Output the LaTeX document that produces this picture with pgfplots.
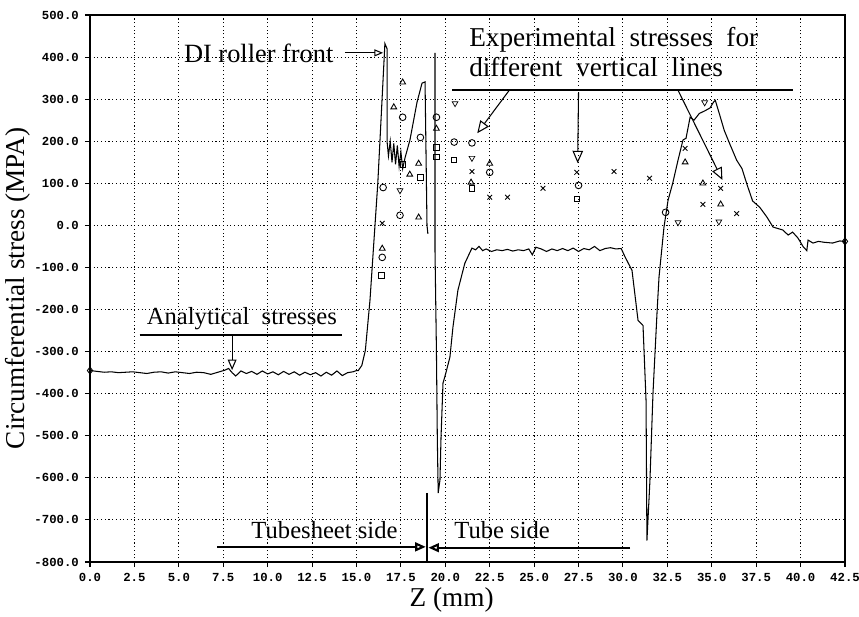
\documentclass[border=0pt]{standalone}
\usepackage{fontspec}
\setmainfont{Liberation Serif}
\setmonofont{Liberation Mono}
\usepackage{pgfplots}
\pgfplotsset{compat=1.18}
\usetikzlibrary{arrows.meta}

\begin{document}
\begin{tikzpicture}
\begin{axis}[
  name=ax,
  scale only axis,
  width=15.1cm, height=10.94cm,
  xmin=0, xmax=42.5, ymin=-800, ymax=500,
  xtick distance=2.5, ytick distance=100,
  tick pos=left, tick align=outside,
  major tick length=0.1cm,
  tick style={black, line width=0.6pt},
  axis line style={line width=0.9pt},
  grid=major,
  grid style={black, line width=0.6pt, dash pattern=on 0.6pt off 1.5pt},
  ticklabel style={font=\fontsize{7}{8}\selectfont\ttfamily\bfseries,
    /pgf/number format/.cd, fixed, fixed zerofill, precision=1, assume math mode=true},
  xlabel={Z (mm)},
  ylabel={Circumferential stress (MPA)},
  label style={font=\fontsize{15.5}{17}\selectfont},
  xlabel style={at={(axis description cs:0.479,-0.07)}, anchor=center},
  ylabel style={at={(axis description cs:-0.095,0.5)}, anchor=center},
  clip=false,
]
% analytical stresses, tubesheet part
\addplot[black, line width=0.6pt] coordinates {
 (0,-345) (0.4,-347) (0.8,-349) (1.2,-348) (1.6,-350) (2.0,-349) (2.4,-348)
 (2.8,-350) (3.2,-352) (3.6,-349) (4.0,-348) (4.4,-351) (4.8,-348) (5.2,-350)
 (5.6,-352) (6.0,-349) (6.4,-350) (6.8,-354) (7.2,-349) (7.6,-344) (7.8,-340)
 (8.0,-350) (8.2,-358) (8.5,-346) (8.8,-352) (9.1,-347) (9.4,-354) (9.7,-346)
 (10.0,-353) (10.3,-348) (10.6,-355) (10.9,-347) (11.2,-354) (11.5,-348)
 (11.8,-356) (12.1,-349) (12.4,-355) (12.7,-350) (13.0,-358) (13.3,-349)
 (13.6,-356) (13.9,-346) (14.2,-357) (14.5,-350) (14.8,-348) (15.0,-345)
 (15.1,-345) (15.3,-333) (15.5,-297) (15.76,-178) (16.2,100) (16.6,432)
 (16.72,420) (16.72,200) (16.8,165) (16.9,200) (17.0,150) (17.1,195)
 (17.2,145) (17.3,190) (17.4,140) (17.5,175) (17.6,135) (17.73,160)
 (18.01,203) (18.41,293) (18.69,338) (18.86,341) (18.97,0) (19.02,-20)
};
% analytical stresses, tube part
\addplot[black, line width=0.6pt] coordinates {
 (19.42,410) (19.42,-59) (19.5,-296) (19.55,-503) (19.6,-636) (19.7,-605)
 (19.76,-503) (19.87,-375) (20.03,-351) (20.26,-313) (20.43,-242) (20.71,-154)
 (21.1,-90) (21.5,-54) (21.7,-58) (21.9,-50) (22.1,-60) (22.3,-56) (22.6,-62)
 (22.9,-58) (23.2,-60) (23.5,-57) (23.8,-61) (24.1,-58) (24.4,-60) (24.7,-56)
 (24.9,-70) (25.1,-52) (25.4,-56) (25.7,-62) (26.0,-56) (26.3,-60) (26.6,-55)
 (26.9,-60) (27.2,-54) (27.5,-62) (27.8,-55) (28.1,-58) (28.4,-50) (28.7,-60)
 (29.0,-55) (29.3,-53) (29.6,-56) (29.9,-55) (30.12,-75) (30.51,-107)
 (30.85,-226) (31.13,-238) (31.3,-416) (31.35,-749) (31.52,-606) (31.69,-400)
 (31.92,-206) (32.03,-123) (32.31,-4) (32.54,60) (32.8,100) (33.1,155)
 (33.38,203) (33.55,207) (33.78,257) (34.0,250) (34.3,266) (34.6,272)
 (34.9,279) (35.1,293) (35.2,297) (35.45,262) (35.7,226) (36.0,195)
 (36.4,155) (36.7,135) (37.0,95) (37.3,58) (37.7,43) (38.1,20) (38.45,-4)
 (39.0,-11) (39.3,-23) (39.55,-16) (39.85,-30) (40.15,-51) (40.35,-60)
 (40.42,-35) (40.7,-42) (41.0,-38) (41.3,-40) (41.8,-42) (42.2,-37) (42.5,-38)
};
\addplot[only marks, mark=diamond, mark size=2pt, mark options={fill=white, line width=0.5pt}]
 coordinates {(0,-345) (42.5,-38)};
% experimental stresses
\pgfplotsset{expmark/.style={only marks, mark size=1.9pt, mark options={solid, fill=white, line width=0.5pt}}}
\addplot[expmark, mark=triangle] coordinates {
 (17.6,340) (17.1,281) (18.5,147) (18.0,121) (18.5,19) (16.45,-55) (19.5,230)
 (22.5,147) (21.45,102) (33.5,150) (34.5,100) (35.5,50)};
\addplot[expmark, mark=o] coordinates {
 (17.6,257) (18.6,209) (16.5,90) (17.45,24) (16.45,-76) (19.5,257) (20.5,198)
 (21.5,196) (22.5,126) (27.5,95) (32.4,31)};
\addplot[expmark, mark=x] coordinates {
 (16.45,5) (21.5,128) (22.5,67) (23.5,67) (25.5,88) (27.4,126) (29.5,128)
 (31.5,112) (33.5,183) (35.5,88) (34.5,50) (36.4,28)};
\addplot[expmark, mark=square, mark size=1.5pt] coordinates {
 (17.6,145) (18.6,114) (16.4,-119) (19.5,185) (19.5,162) (20.5,155) (21.5,88) (27.4,62)};
\addplot[expmark, mark=triangle, mark options={rotate=180}] coordinates {
 (17.45,83) (20.55,290) (21.5,160) (33.1,7) (35.4,9) (34.6,292)};

% annotations
\node[font=\fontsize{15}{17}\selectfont] at (axis cs:9.5,410) {DI roller front};
\draw[-{Triangle[open,length=5pt,width=4pt]}, line width=0.6pt] (axis cs:14.35,410) -- (axis cs:16.5,410);
\node[font=\fontsize{15.5}{17.5}\selectfont, align=left, anchor=west] at (axis cs:21.0,412)
 {Experimental\ \ stresses\ \ for\\ different\ \ vertical\ \ lines};
\draw[line width=1.3pt] (axis cs:20.4,321) -- (axis cs:39.6,321);
\draw[-{Triangle[open,length=7pt,width=6pt]}, line width=0.6pt] (axis cs:23.6,321) -- (axis cs:21.8,219);
\draw[-{Triangle[open,length=7pt,width=6pt]}, line width=0.6pt] (axis cs:27.5,316) -- (axis cs:27.45,148);
\draw[-{Triangle[open,length=7pt,width=6pt]}, line width=0.6pt] (axis cs:33.1,321) -- (axis cs:35.6,108);
\node[font=\fontsize{14}{16}\selectfont] at (axis cs:8.55,-221) {Analytical\ \ stresses};
\draw[line width=1.3pt] (axis cs:2.8,-260) -- (axis cs:14.2,-260);
\draw[-{Triangle[open,length=6pt,width=5pt]}, line width=0.6pt] (axis cs:8.0,-260) -- (axis cs:8.0,-344);
\node[font=\fontsize{14}{16}\selectfont] at (axis cs:13.2,-725) {Tubesheet side};
\node[font=\fontsize{14}{16}\selectfont] at (axis cs:23.2,-725) {Tube side};
\draw[-{Triangle[open,length=6pt,width=5pt]}, line width=1.2pt] (axis cs:7.15,-764) -- (axis cs:18.9,-764);
\draw[-{Triangle[open,length=6pt,width=5pt]}, line width=1.2pt] (axis cs:30.4,-766) -- (axis cs:19.05,-766);
\draw[line width=0.6pt] (axis cs:18.97,-636) -- (axis cs:18.97,-800);
\end{axis}
\pgfresetboundingbox
\path[use as bounding box] ([xshift=-1.8cm,yshift=-1.08cm]ax.south west) rectangle ([xshift=0.28cm,yshift=0.3cm]ax.north east);
\end{tikzpicture}
\end{document}
